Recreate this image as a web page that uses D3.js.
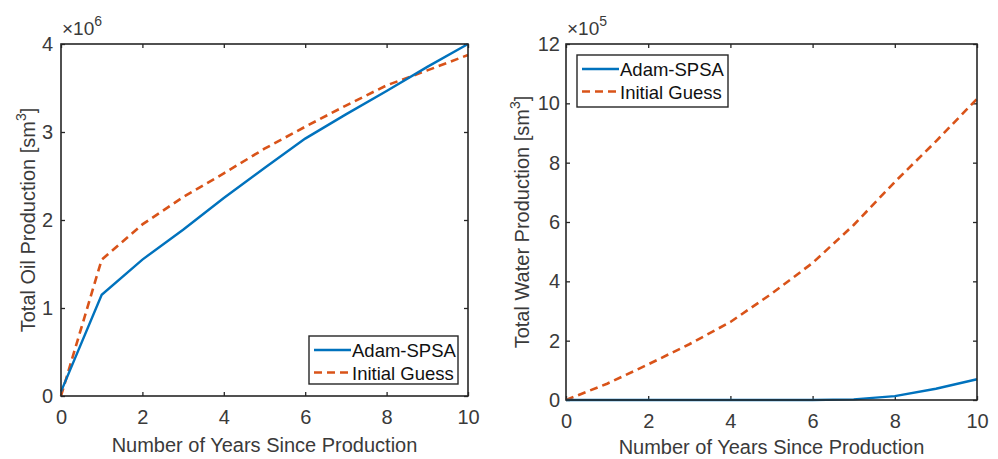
<!DOCTYPE html>
<html>
<head>
<meta charset="utf-8">
<script src="https://cdn.jsdelivr.net/npm/d3@7"></script>
<style>
  html, body { margin: 0; padding: 0; background: #fff; }
  svg { display: block; }
  text { font-family: "Liberation Sans", Arial, Helvetica, sans-serif; }
</style>
</head>
<body>
<svg id="chart" width="998" height="459"></svg>
<script>
// Cumulative production per year since start of production
const years = [0, 1, 2, 3, 4, 5, 6, 7, 8, 9, 10];

// Oil (×10^6 sm³)
const oilAdam  = [0.05, 1.15, 1.55, 1.89, 2.25, 2.59, 2.925, 3.20, 3.465, 3.74, 4.00];
const oilGuess = [0.00, 1.55, 1.95, 2.26, 2.53, 2.81, 3.06, 3.30, 3.53, 3.70, 3.875];

// Water (×10^5 sm³)
const waterAdam  = [0, 0, 0, 0, 0, 0, 0, 0.02, 0.13, 0.38, 0.70];
const waterGuess = [0, 0.55, 1.20, 1.88, 2.63, 3.58, 4.62, 5.90, 7.35, 8.72, 10.15];

const xTicks = [0, 2, 4, 6, 8, 10];
const oilTicks = [0, 1, 2, 3, 4];
const waterTicks = [0, 2, 4, 6, 8, 10, 12];

const seriesNames = ["Adam-SPSA", "Initial Guess"];
const blue = "#0072BD", red = "#D95319", ink = "#262626", txt = "#3a3a3a";
const fontFamily = '"Liberation Sans", Arial, sans-serif';

const svg = d3.select("#chart");

function panel(cfg) {
  const g = svg.append("g");
  const x = d3.scaleLinear().domain([0, 10]).range([cfg.left, cfg.right]);
  const y = d3.scaleLinear().domain(cfg.yDomain).range([cfg.bottom, cfg.top]);
  const fmt = d3.format("d");

  // axes: inward ticks on all four sides
  const styleAxis = sel => {
    sel.select(".domain").remove();
    sel.selectAll(".tick line").attr("stroke", ink).attr("stroke-width", 1.3);
    sel.selectAll(".tick text").attr("fill", txt).style("font-size", "20px")
      .style("font-family", fontFamily);
  };
  g.append("g").attr("transform", `translate(0,${cfg.bottom})`)
    .call(d3.axisBottom(x).tickValues(xTicks).tickFormat(fmt).tickSize(-4).tickPadding(14))
    .call(styleAxis);
  g.append("g").attr("transform", `translate(0,${cfg.top})`)
    .call(d3.axisTop(x).tickValues(xTicks).tickSize(-4).tickFormat(""))
    .call(styleAxis);
  g.append("g").attr("transform", `translate(${cfg.left},0)`)
    .call(d3.axisLeft(y).tickValues(cfg.yTicks).tickFormat(fmt).tickSize(-4).tickPadding(cfg.yPad))
    .call(styleAxis);
  g.append("g").attr("transform", `translate(${cfg.right},0)`)
    .call(d3.axisRight(y).tickValues(cfg.yTicks).tickSize(-4).tickFormat(""))
    .call(styleAxis);

  // lines
  const line = d3.line().x((d, i) => x(years[i])).y(d => y(d));
  g.append("path").datum(cfg.guess).attr("d", line)
    .attr("fill", "none").attr("stroke", red).attr("stroke-width", 2.6)
    .attr("stroke-dasharray", "8,5");
  g.append("path").datum(cfg.adam).attr("d", line)
    .attr("fill", "none").attr("stroke", blue).attr("stroke-width", 2.4);

  // axes box
  g.append("rect")
    .attr("x", cfg.left).attr("y", cfg.top)
    .attr("width", cfg.right - cfg.left).attr("height", cfg.bottom - cfg.top)
    .attr("fill", "none").attr("stroke", ink).attr("stroke-width", 1.6);

  // exponent marker
  const ex = g.append("text").attr("x", cfg.left + 1).attr("y", cfg.top - 9)
    .attr("fill", txt).style("font-size", "19px");
  ex.append("tspan").text("\u00d710");
  ex.append("tspan").attr("dy", -9).style("font-size", "14px").text(cfg.exponent);

  // x label
  g.append("text").attr("x", (cfg.left + cfg.right) / 2).attr("y", cfg.xLabelY)
    .attr("text-anchor", "middle").attr("fill", txt).style("font-size", "20px")
    .text("Number of Years Since Production");

  // y label
  const yl = g.append("text")
    .attr("transform", `translate(${cfg.yLabelX},${(cfg.top + cfg.bottom) / 2}) rotate(-90)`)
    .attr("text-anchor", "middle").attr("fill", txt).style("font-size", "20px");
  yl.append("tspan").text(cfg.yLabel + " [sm");
  yl.append("tspan").attr("dy", -9).style("font-size", "14px").text("3");
  yl.append("tspan").attr("dy", 9).text("]");

  // legend
  const L = cfg.legend;
  const lg = g.append("g");
  lg.append("rect").attr("x", L.x).attr("y", L.y).attr("width", L.w).attr("height", L.h)
    .attr("fill", "#fff").attr("stroke", ink).attr("stroke-width", 1.4);
  const styles = [{ c: blue, dash: null, w: 2.4 }, { c: red, dash: "8,5", w: 2.6 }];
  seriesNames.forEach((name, i) => {
    const cy = L.y + 14 + i * 22.5;
    lg.append("line").attr("x1", L.x + 5).attr("x2", L.x + 42)
      .attr("y1", cy).attr("y2", cy)
      .attr("stroke", styles[i].c).attr("stroke-width", styles[i].w)
      .attr("stroke-dasharray", styles[i].dash);
    lg.append("text").attr("x", L.x + 43).attr("y", cy + 7)
      .attr("fill", "#111").style("font-size", "18.5px").text(name);
  });
}

panel({
  left: 61, right: 468, top: 44, bottom: 396,
  yDomain: [0, 4], yTicks: oilTicks, yPad: 8,
  adam: oilAdam, guess: oilGuess,
  exponent: "6", yLabel: "Total Oil Production",
  yLabelX: 35, xLabelY: 452,
  legend: { x: 309, y: 336, w: 149, h: 48 }
});

panel({
  left: 566, right: 977, top: 44, bottom: 400,
  yDomain: [0, 12], yTicks: waterTicks, yPad: 6,
  adam: waterAdam, guess: waterGuess,
  exponent: "5", yLabel: "Total Water Production",
  yLabelX: 529, xLabelY: 454,
  legend: { x: 577, y: 55, w: 151, h: 52 }
});
</script>
</body>
</html>
